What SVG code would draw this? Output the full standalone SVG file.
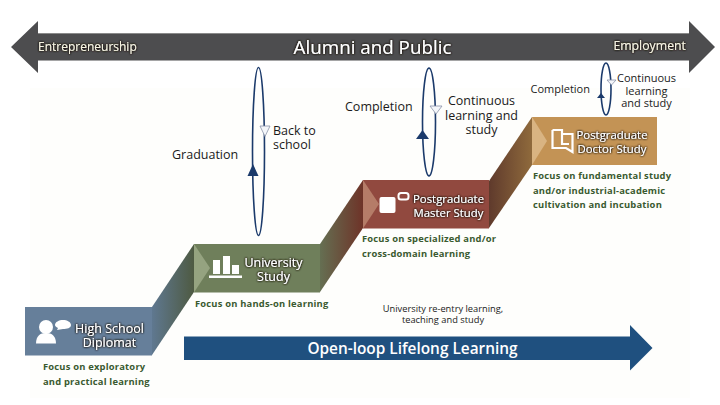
<svg xmlns="http://www.w3.org/2000/svg" width="720" height="405" viewBox="0 0 720 405">
<defs>
<linearGradient id="g1" x1="0" y1="0" x2="1" y2="0"><stop offset="0" stop-color="#5f7890"/><stop offset="1" stop-color="#4e5a42"/></linearGradient>
<linearGradient id="g2" x1="0" y1="0" x2="1" y2="0"><stop offset="0" stop-color="#656f52"/><stop offset="1" stop-color="#6e3328"/></linearGradient>
<linearGradient id="g3" x1="0" y1="0" x2="1" y2="0"><stop offset="0" stop-color="#5f3a2c"/><stop offset="1" stop-color="#8f6a3c"/></linearGradient>
<filter id="glow" x="-15%" y="-30%" width="130%" height="160%"><feGaussianBlur in="SourceAlpha" stdDeviation="1.3" result="b"/><feComponentTransfer in="b" result="c"><feFuncA type="linear" slope="2"/></feComponentTransfer><feFlood flood-color="#1c140e"/><feComposite in2="c" operator="in"/><feMerge><feMergeNode/><feMergeNode in="SourceGraphic"/></feMerge></filter>
</defs>
<style>
text{font-family:"Open Sans","Noto Sans","Liberation Sans",sans-serif}
.lab{fill:#1a1a1a;font-size:12.5px}
.foc{fill:#3a5a30;font-size:9.4px;font-weight:700;letter-spacing:.2px}
.box{fill:#fff;font-size:12.5px;text-anchor:middle;filter:url(#glow)}
.pg{font-size:11.4px}
.small{font-size:11px}
.ell{fill:none;stroke:#1b3a6b;stroke-width:1.6}
.up{fill:#1b3a6b}
.dn{fill:#f4f6fa;stroke:#8a93a8;stroke-width:.8}
.ic{fill:#fff}
</style>
<rect width="720" height="405" fill="#fff"/>
<rect x="30" y="88" width="660" height="310" fill="#fefefc"/>

<g id="top-arrow">
<path d="M11 47 38 21V33.500H689V21L715 47 689 73V60.500H38V73Z" fill="#4d4d4f"/>
<path d="M38 33.500H689" stroke="#8a8a8a" stroke-width="1.200"/>
<text x="38" y="51" font-size="12" fill="#f6f3e2" filter="url(#glow)">Entrepreneurship</text>
<text x="372.500" y="54" font-size="18.800" fill="#fff" text-anchor="middle" filter="url(#glow)">Alumni and Public</text>
<text x="686" y="50" font-size="12.300" fill="#f6f3e2" text-anchor="end" filter="url(#glow)">Employment</text>
</g>

<g id="connectors">
<path d="M152 307 194 244V292L152 355Z" fill="url(#g1)"/>
<path d="M320 244 363 180V228L320 292Z" fill="url(#g2)"/>
<path d="M489 181 532 117V165L489 228Z" fill="url(#g3)"/>
<ellipse class="ell" cx="258.500" cy="151.500" rx="6" ry="84"/>
<path class="up" d="M253 164 258.500 176H247.500Z"/>
<path class="dn" d="M260 126H270L265 136.500Z"/>
<ellipse class="ell" cx="429" cy="122" rx="6.500" ry="54"/>
<path class="up" d="M422.500 130 429 139H416Z"/>
<path class="dn" d="M430 106H442L436 114Z"/>
<ellipse class="ell" cx="606" cy="89" rx="5" ry="26"/>
<path class="up" d="M601 93 605 98H597Z"/>
<path class="dn" d="M607 80H616L611.500 85Z"/>
</g>

<g id="node-high-school">
<rect x="25" y="307" width="127" height="48.500" fill="#667f9a"/>
<circle class="ic" cx="46" cy="327" r="7"/>
<path class="ic" d="M36 343.500C36 336 40 333 46 333S56 336 56 343.500Z"/>
<path class="ic" d="M55 325C55 322 59 320 63 320S71 322 71 325 67 329 63 329L57 330 58 328C56 327 55 326 55 325Z"/>
<text class="box"><tspan x="109.500" y="333">High School</tspan><tspan x="109.500" y="347">Diplomat</tspan></text>
<text class="foc"><tspan x="43" y="370">Focus on exploratory</tspan><tspan x="43" y="385">and practical learning</tspan></text>
</g>

<g id="node-university">
<rect x="194" y="244" width="126" height="48.500" fill="#6f7f5b"/>
<path d="M194 244 210 268 194 292.500Z" fill="#95a380"/>
<path class="ic" d="M213 260H220V274H213ZM223 256H230V274H223ZM232 265H239V274H232ZM209 275.500H242V278H209Z"/>
<text class="box"><tspan x="273.500" y="267">University</tspan><tspan x="273.500" y="281">Study</tspan></text>
<text class="foc" x="195" y="306.500">Focus on hands-on learning</text>
</g>

<g id="node-master">
<rect x="363" y="180" width="126" height="48.500" fill="#91493f"/>
<path d="M363 180 379 204 363 228.500Z" fill="#b57c68"/>
<rect class="ic" x="379.500" y="197" width="16" height="16" rx="2"/>
<rect x="398.500" y="193" width="10" height="6.500" rx="2.500" fill="none" stroke="#fff" stroke-width="2"/>
<text class="box pg"><tspan x="448.500" y="203">Postgraduate</tspan><tspan x="448.500" y="217">Master Study</tspan></text>
<text class="foc"><tspan x="362" y="242">Focus on specialized and/or</tspan><tspan x="362" y="257">cross-domain learning</tspan></text>
</g>

<g id="node-doctor">
<rect x="532" y="117" width="125" height="48" fill="#c39355"/>
<path d="M532 117 547 141 532 165Z" fill="#d9b482"/>
<path d="M552.500 130H562V144H569M562 134H572.500V152L566 148H552.500V130" fill="none" stroke="#fff" stroke-width="2.200"/>
<text class="box pg"><tspan x="612" y="139">Postgraduate</tspan><tspan x="612" y="153">Doctor Study</tspan></text>
<text class="foc"><tspan x="533" y="179">Focus on fundamental study</tspan><tspan x="533" y="194">and/or industrial-academic</tspan><tspan x="533" y="208">cultivation and incubation</tspan></text>
</g>

<g id="labels">
<text class="lab" x="172" y="159">Graduation</text>
<text class="lab"><tspan x="273" y="135">Back to</tspan><tspan x="273" y="149">school</tspan></text>
<text class="lab" x="345" y="111">Completion</text>
<text class="lab" text-anchor="middle"><tspan x="481.500" y="105">Continuous</tspan><tspan x="481.500" y="120">learning and</tspan><tspan x="481.500" y="134">study</tspan></text>
<text class="lab small" x="530.500" y="93">Completion</text>
<text class="lab small" text-anchor="middle"><tspan x="646.500" y="82">Continuous</tspan><tspan x="646.500" y="95">learning</tspan><tspan x="646.500" y="107">and study</tspan></text>
<text x="443" y="312" font-size="9.300" fill="#1a1a1a" text-anchor="middle">University re-entry learning,</text>
<text x="443" y="323" font-size="9.300" fill="#1a1a1a" text-anchor="middle">teaching and study</text>
</g>

<g id="lifelong-arrow">
<path d="M184 336.500H630V325L652.500 348 630 370.500V360H184Z" fill="#1f507f"/>
<text x="412.500" y="354" font-size="15.400" font-weight="600" fill="#fff" text-anchor="middle">Open-loop Lifelong Learning</text>
</g>
</svg>
